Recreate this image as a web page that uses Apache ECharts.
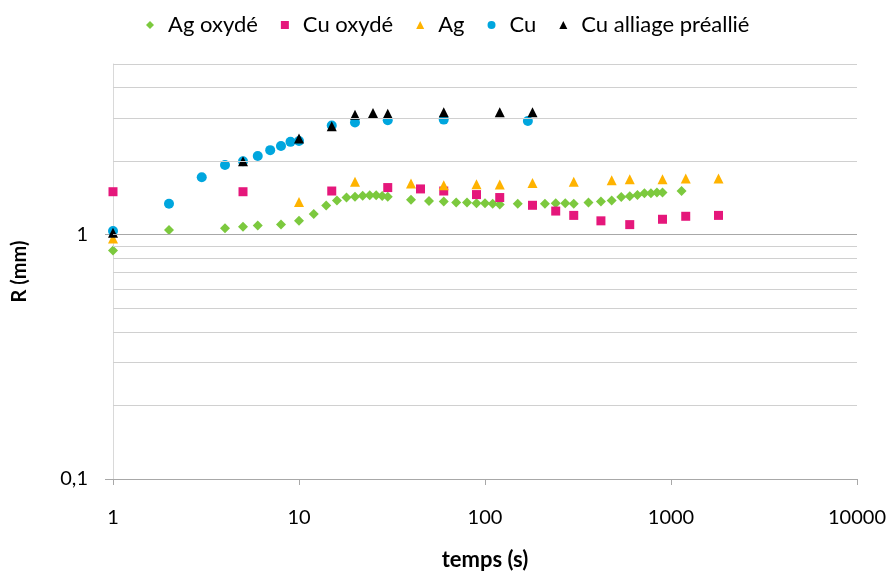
<!DOCTYPE html>
<html>
<head>
<meta charset="utf-8">
<script src="https://cdn.jsdelivr.net/npm/echarts@6/dist/echarts.min.js"></script>
<style>
  html, body { margin: 0; padding: 0; background: #fff; }
  #chart { width: 892px; height: 576px; }
</style>
</head>
<body>
<div id="chart"></div>
<script>
// Rayon R (mm) en fonction du temps (s), échelles logarithmiques
const seriesNames = ['Ag oxydé', 'Cu oxydé', 'Ag', 'Cu', 'Cu alliage préallié'];

const agOxydeT = [1, 2, 4, 5, 6, 8, 10, 12, 14, 16, 18, 20, 22, 24, 26, 28, 30, 40, 50, 60, 70, 80, 90, 100, 110, 120, 150, 210, 240, 270, 300, 360, 420, 480, 540, 600, 660, 720, 780, 840, 900, 1140];
const agOxydeR = [0.862, 1.045, 1.064, 1.077, 1.09, 1.10, 1.14, 1.215, 1.318, 1.38, 1.42, 1.43, 1.445, 1.45, 1.45, 1.44, 1.43, 1.39, 1.375, 1.367, 1.355, 1.355, 1.346, 1.346, 1.34, 1.33, 1.34, 1.34, 1.345, 1.345, 1.34, 1.355, 1.367, 1.38, 1.427, 1.437, 1.454, 1.477, 1.48, 1.49, 1.49, 1.51];

const cuOxydeT = [1, 5, 15, 30, 45, 60, 90, 120, 180, 240, 300, 420, 600, 900, 1200, 1800];
const cuOxydeR = [1.50, 1.50, 1.51, 1.56, 1.54, 1.51, 1.46, 1.42, 1.32, 1.25, 1.20, 1.14, 1.10, 1.157, 1.19, 1.20];

const agT = [1, 10, 20, 40, 60, 90, 120, 180, 300, 480, 600, 900, 1200, 1800];
const agR = [0.966, 1.36, 1.646, 1.62, 1.595, 1.61, 1.605, 1.63, 1.646, 1.67, 1.687, 1.687, 1.70, 1.70];

const cuT = [1, 2, 3, 4, 5, 6, 7, 8, 9, 10, 15, 20, 30, 60, 170];
const cuR = [1.035, 1.34, 1.72, 1.93, 2.0, 2.10, 2.22, 2.31, 2.40, 2.42, 2.80, 2.88, 2.94, 2.96, 2.92];

const cuAlliageT = [1, 5, 10, 15, 20, 25, 30, 60, 120, 180];
const cuAlliageR = [1.02, 2.0, 2.48, 2.78, 3.10, 3.15, 3.13, 3.17, 3.17, 3.17];

// Graduations
const xTickValues = [1, 10, 100, 1000, 10000];
const yTickValues = [0.1, 1];
const yGridValues = [0.2, 0.3, 0.4, 0.5, 0.6, 0.7, 0.8, 0.9, 2, 3, 4, 5];

const zip = (xs, ys) => xs.map((x, i) => [x, ys[i]]);

const FONT = 'Lato, "Open Sans", sans-serif';

const styles = [
  { symbol: 'diamond',  size: 10, color: '#7CC93E' },
  { symbol: 'rect',     size: 9,  color: '#E5177B' },
  { symbol: 'triangle', size: 10, color: '#FFB300' },
  { symbol: 'circle',   size: 10, color: '#00A6DE' },
  { symbol: 'triangle', size: 10, color: '#000000' }
];
const dataSets = [
  zip(agOxydeT, agOxydeR),
  zip(cuOxydeT, cuOxydeR),
  zip(agT, agR),
  zip(cuT, cuR),
  zip(cuAlliageT, cuAlliageR)
];

const series = seriesNames.map((name, i) => ({
  name,
  type: 'scatter',
  symbol: styles[i].symbol,
  symbolSize: styles[i].size,
  itemStyle: { color: styles[i].color, opacity: 1 },
  data: dataSets[i],
  z: 3
}));

// Horizontal grid lines at the intermediate values of the log scale
series.push({
  name: 'grid',
  type: 'scatter',
  data: [],
  silent: true,
  z: 1,
  markLine: {
    silent: true,
    symbol: ['none', 'none'],
    label: { show: false },
    animation: false,
    data: yGridValues.map(v => ({ yAxis: v, lineStyle: { color: '#d0d0d0', width: 1, type: 'solid' } }))
      .concat([{ yAxis: 1, lineStyle: { color: '#a8a8a8', width: 1, type: 'solid' } }])
  }
});

const chart = echarts.init(document.getElementById('chart'), null, { renderer: 'canvas' });
chart.setOption({
  animation: false,
  backgroundColor: '#fff',
  textStyle: { fontFamily: FONT },
  legend: {
    data: seriesNames,
    top: 9,
    left: 141,
    itemWidth: 8,
    itemHeight: 8,
    itemGap: 23,
    textStyle: { fontFamily: FONT, fontSize: 22, color: '#000', padding: [0, 0, 0, 9] }
  },
  grid: { left: 113, right: 35, top: 64, bottom: 91, containLabel: false },
  xAxis: {
    type: 'log',
    logBase: 10,
    min: 1,
    max: 10000,
    name: 'temps (s)',
    nameLocation: 'middle',
    nameGap: 70,
    nameTextStyle: { fontFamily: FONT, fontSize: 22, fontWeight: 'bold', color: '#000' },
    axisLine: { show: true, lineStyle: { color: '#a8a8a8', width: 1 } },
    axisTick: { show: true, length: 6, customValues: xTickValues, lineStyle: { color: '#a8a8a8' } },
    axisLabel: {
      customValues: xTickValues,
      margin: 29,
      fontFamily: FONT,
      fontSize: 20,
      color: '#000',
      formatter: v => String(v)
    },
    splitLine: { show: false },
    minorTick: { show: false },
    minorSplitLine: { show: false }
  },
  yAxis: {
    type: 'log',
    logBase: 10,
    min: 0.1,
    max: 5,
    name: 'R (mm)',
    nameLocation: 'middle',
    nameGap: 83,
    nameRotate: 90,
    nameTextStyle: { fontFamily: FONT, fontSize: 20, fontWeight: 'bold', color: '#000' },
    axisLine: { show: true, lineStyle: { color: '#d9d9d9', width: 1 } },
    axisTick: { show: true, length: 8, customValues: yTickValues, lineStyle: { color: '#a8a8a8' } },
    axisLabel: {
      customValues: yTickValues,
      margin: 25,
      fontFamily: FONT,
      fontSize: 20,
      color: '#000',
      formatter: v => String(v).replace('.', ',')
    },
    splitLine: { show: false },
    minorTick: { show: false },
    minorSplitLine: { show: false }
  },
  series
});
</script>
</body>
</html>
